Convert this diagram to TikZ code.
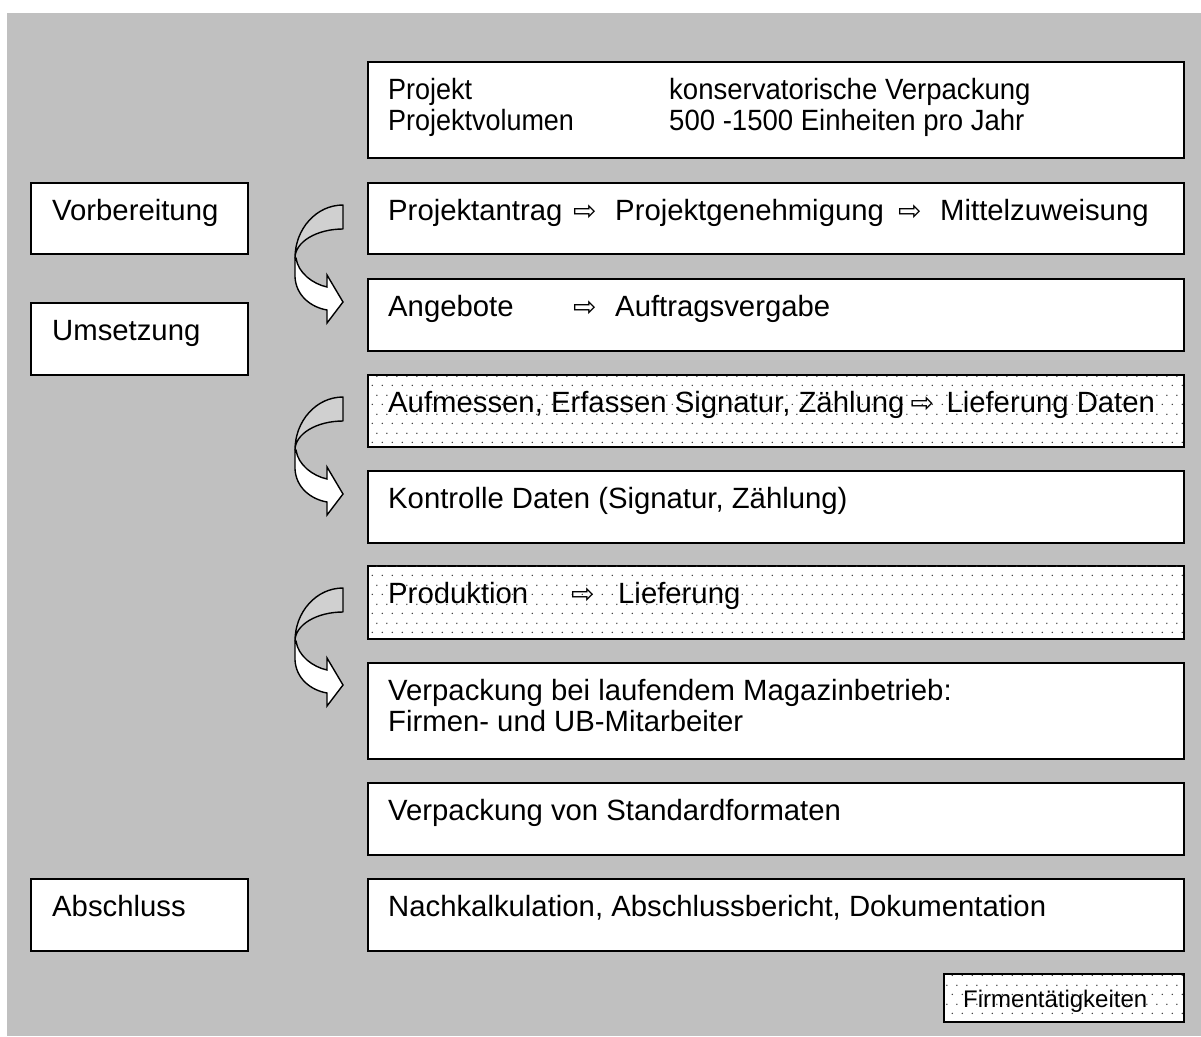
\documentclass[tikz,border=0pt]{standalone}
\usepackage{fontspec}
\setmainfont{Liberation Sans}
\newfontfamily\arrowfont{DejaVu Sans}
\usetikzlibrary{patterns.meta}
\definecolor{bggray}{HTML}{C0C0C0}
\definecolor{arrgray}{HTML}{D0D0D0}
\pgfdeclarepattern{
  name=stagdots,
  type=uncolored,
  bottom left={\pgfpoint{0pt}{0pt}},
  top right={\pgfpoint{10pt}{19pt}},
  tile size={\pgfpoint{10pt}{19pt}},
  code={
    \pgfpathcircle{\pgfpoint{2.5pt}{4.75pt}}{0.8pt}
    \pgfpathcircle{\pgfpoint{7.5pt}{14.25pt}}{0.8pt}
    \pgfusepath{fill}
  }
}
\newcommand{\rarr}{{\arrowfont\fontsize{28}{28}\selectfont ⇨}}
\begin{document}
\begin{tikzpicture}[x=1pt,y=-1pt,
  box/.style={draw=black,line width=1.6pt,fill=white,rectangle,inner sep=0pt,anchor=north west,minimum width=816pt},
  lbox/.style={box,minimum width=217pt},
  dotbox/.style={box,postaction={pattern=stagdots,pattern color=black!80}},
  txt/.style={inner sep=0pt,anchor=base west,font=\fontsize{29.3}{31}\selectfont},
  stxt/.style={inner sep=0pt,anchor=base west,font=\fontsize{24}{26}\selectfont},
  curvarr/.pic={
    \draw[line width=1.4pt,fill=arrgray,line join=round]
      (0,0) .. controls (-26.5,0) and (-48,23.7) .. (-48,53)
      .. controls (-48,37) and (-26.5,24) .. (0,24) -- cycle;
    \draw[line width=1.4pt,fill=white,line join=miter]
      (-48,53) -- (-48,72) .. controls (-47,90) and (-33,102) .. (-16,105)
      -- (-16,118) -- (0,97) -- (-16,70) -- (-16,82)
      .. controls (-30,79) and (-45,68) .. (-47,53) -- cycle;
  }]
\useasboundingbox (0,0) rectangle (1201,1036);
\fill[bggray] (7,13) rectangle (1201,1036);

% right column boxes
\node[box,minimum height=96pt] (b1) at (367,61) {};
\node[box,minimum height=71pt] (b2) at (367,182) {};
\node[box,minimum height=72pt] (b3) at (367,278) {};
\node[dotbox,minimum height=72pt] (b4) at (367,374) {};
\node[box,minimum height=72pt] (b5) at (367,470) {};
\node[dotbox,minimum height=73pt] (b6) at (367,565) {};
\node[box,minimum height=96pt] (b7) at (367,662) {};
\node[box,minimum height=72pt] (b8) at (367,782) {};
\node[box,minimum height=72pt] (b9) at (367,878) {};

% left column boxes
\node[lbox,minimum height=71pt] (l1) at (30,182) {};
\node[lbox,minimum height=72pt] (l2) at (30,302) {};
\node[lbox,minimum height=72pt] (l3) at (30,878) {};

% legend box
\node[dotbox,minimum width=240pt,minimum height=48pt] (lg) at (943,973) {};

% texts
\node[txt] (t1a) at (388,99) {\scalebox{0.92}[1]{Projekt}};
\node[txt] (t1b) at (669,99) {\scalebox{0.94}[1]{konservatorische Verpackung}};
\node[txt] (t1c) at (388,130) {\scalebox{0.92}[1]{Projektvolumen}};
\node[txt] (t1d) at (669,130) {\scalebox{0.94}[1]{500 -1500 Einheiten pro Jahr}};
\node[txt] (t2) at (388,220) {\makebox[185pt][l]{Projektantrag}\makebox[42pt][l]{\rarr}\makebox[283pt][l]{Projektgenehmigung}\makebox[42pt][l]{\rarr}Mittelzuweisung};
\node[txt] (t3) at (388,316) {\makebox[185pt][l]{Angebote}\makebox[42pt][l]{\rarr}Auftragsvergabe};
\node[txt] (t4) at (388,412) {Aufmessen, Erfassen Signatur, Zählung\hspace{6pt}\makebox[36pt][l]{\rarr}Lieferung Daten};
\node[txt] (t5) at (388,508) {Kontrolle Daten (Signatur, Zählung)};
\node[txt] (t6) at (388,603) {\makebox[183pt][l]{Produktion}\makebox[47pt][l]{\rarr}Lieferung};
\node[txt] (t7a) at (388,700) {Verpackung bei laufendem Magazinbetrieb:};
\node[txt] (t7b) at (388,731) {Firmen- und UB-Mitarbeiter};
\node[txt] (t8) at (388,820) {Verpackung von Standardformaten};
\node[txt] (t9) at (388,916) {Nachkalkulation, Abschlussbericht, Dokumentation};
\node[txt] (tl1) at (52,220) {Vorbereitung};
\node[txt] (tl2) at (52,340) {Umsetzung};
\node[txt] (tl3) at (52,916) {Abschluss};
\node[stxt] (tlg) at (963,1007) {Firmentätigkeiten};

% curved arrows
\pic at (343,205) {curvarr};
\pic at (343,397) {curvarr};
\pic at (343,588) {curvarr};
\end{tikzpicture}
\end{document}
